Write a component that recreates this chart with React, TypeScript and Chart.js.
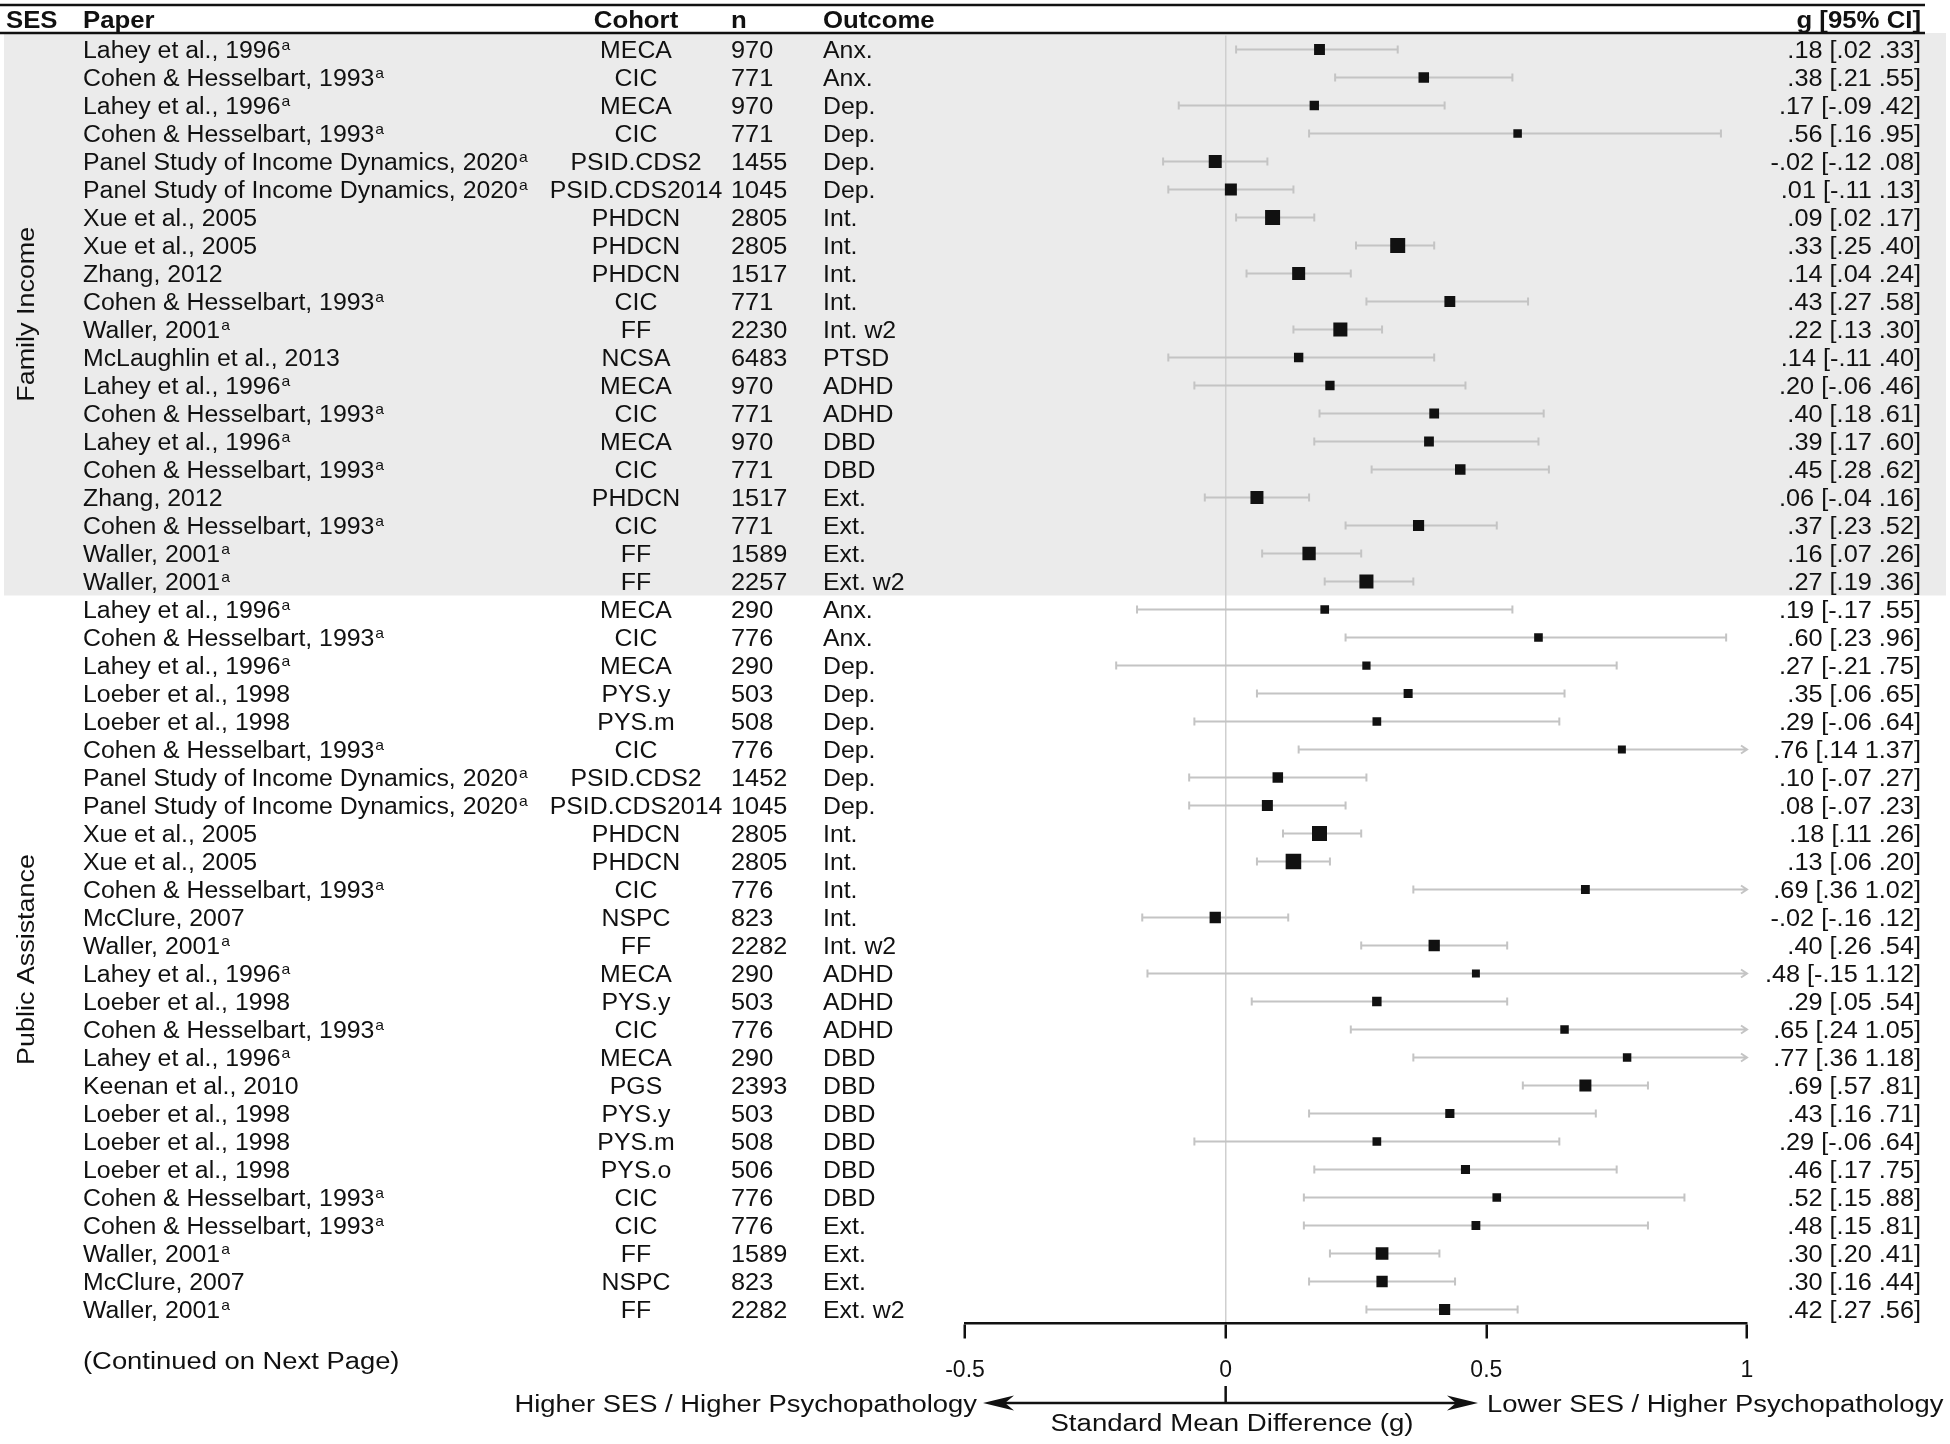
import { useEffect, useRef } from 'react';
import { Chart, registerables } from 'chart.js';

Chart.register(...registerables);

// ---------- data ----------
const sesGroups = ['Family Income', 'Public Assistance'];
const groupSizes = [20, 26];

const papers = [
  'Lahey et al., 1996^a', 'Cohen & Hesselbart, 1993^a', 'Lahey et al., 1996^a', 'Cohen & Hesselbart, 1993^a',
  'Panel Study of Income Dynamics, 2020^a', 'Panel Study of Income Dynamics, 2020^a', 'Xue et al., 2005', 'Xue et al., 2005',
  'Zhang, 2012', 'Cohen & Hesselbart, 1993^a', 'Waller, 2001^a', 'McLaughlin et al., 2013',
  'Lahey et al., 1996^a', 'Cohen & Hesselbart, 1993^a', 'Lahey et al., 1996^a', 'Cohen & Hesselbart, 1993^a',
  'Zhang, 2012', 'Cohen & Hesselbart, 1993^a', 'Waller, 2001^a', 'Waller, 2001^a',
  'Lahey et al., 1996^a', 'Cohen & Hesselbart, 1993^a', 'Lahey et al., 1996^a', 'Loeber et al., 1998',
  'Loeber et al., 1998', 'Cohen & Hesselbart, 1993^a', 'Panel Study of Income Dynamics, 2020^a', 'Panel Study of Income Dynamics, 2020^a',
  'Xue et al., 2005', 'Xue et al., 2005', 'Cohen & Hesselbart, 1993^a', 'McClure, 2007',
  'Waller, 2001^a', 'Lahey et al., 1996^a', 'Loeber et al., 1998', 'Cohen & Hesselbart, 1993^a',
  'Lahey et al., 1996^a', 'Keenan et al., 2010', 'Loeber et al., 1998', 'Loeber et al., 1998',
  'Loeber et al., 1998', 'Cohen & Hesselbart, 1993^a', 'Cohen & Hesselbart, 1993^a', 'Waller, 2001^a',
  'McClure, 2007', 'Waller, 2001^a',
];

const cohorts = [
  'MECA', 'CIC', 'MECA', 'CIC', 'PSID.CDS2', 'PSID.CDS2014', 'PHDCN', 'PHDCN', 'PHDCN', 'CIC',
  'FF', 'NCSA', 'MECA', 'CIC', 'MECA', 'CIC', 'PHDCN', 'CIC', 'FF', 'FF',
  'MECA', 'CIC', 'MECA', 'PYS.y', 'PYS.m', 'CIC', 'PSID.CDS2', 'PSID.CDS2014', 'PHDCN', 'PHDCN',
  'CIC', 'NSPC', 'FF', 'MECA', 'PYS.y', 'CIC', 'MECA', 'PGS', 'PYS.y', 'PYS.m',
  'PYS.o', 'CIC', 'CIC', 'FF', 'NSPC', 'FF',
];

const sampleN = [
  970, 771, 970, 771, 1455, 1045, 2805, 2805, 1517, 771,
  2230, 6483, 970, 771, 970, 771, 1517, 771, 1589, 2257,
  290, 776, 290, 503, 508, 776, 1452, 1045, 2805, 2805,
  776, 823, 2282, 290, 503, 776, 290, 2393, 503, 508,
  506, 776, 776, 1589, 823, 2282,
];

const outcomes = [
  'Anx.', 'Anx.', 'Dep.', 'Dep.', 'Dep.', 'Dep.', 'Int.', 'Int.', 'Int.', 'Int.',
  'Int. w2', 'PTSD', 'ADHD', 'ADHD', 'DBD', 'DBD', 'Ext.', 'Ext.', 'Ext.', 'Ext. w2',
  'Anx.', 'Anx.', 'Dep.', 'Dep.', 'Dep.', 'Dep.', 'Dep.', 'Dep.', 'Int.', 'Int.',
  'Int.', 'Int.', 'Int. w2', 'ADHD', 'ADHD', 'ADHD', 'DBD', 'DBD', 'DBD', 'DBD',
  'DBD', 'DBD', 'Ext.', 'Ext.', 'Ext.', 'Ext. w2',
];

const gValues = [
  0.18, 0.38, 0.17, 0.56, -0.02, 0.01, 0.09, 0.33, 0.14, 0.43,
  0.22, 0.14, 0.20, 0.40, 0.39, 0.45, 0.06, 0.37, 0.16, 0.27,
  0.19, 0.60, 0.27, 0.35, 0.29, 0.76, 0.10, 0.08, 0.18, 0.13,
  0.69, -0.02, 0.40, 0.48, 0.29, 0.65, 0.77, 0.69, 0.43, 0.29,
  0.46, 0.52, 0.48, 0.30, 0.30, 0.42,
];

const ciLower = [
  0.02, 0.21, -0.09, 0.16, -0.12, -0.11, 0.02, 0.25, 0.04, 0.27,
  0.13, -0.11, -0.06, 0.18, 0.17, 0.28, -0.04, 0.23, 0.07, 0.19,
  -0.17, 0.23, -0.21, 0.06, -0.06, 0.14, -0.07, -0.07, 0.11, 0.06,
  0.36, -0.16, 0.26, -0.15, 0.05, 0.24, 0.36, 0.57, 0.16, -0.06,
  0.17, 0.15, 0.15, 0.20, 0.16, 0.27,
];

const ciUpper = [
  0.33, 0.55, 0.42, 0.95, 0.08, 0.13, 0.17, 0.40, 0.24, 0.58,
  0.30, 0.40, 0.46, 0.61, 0.60, 0.62, 0.16, 0.52, 0.26, 0.36,
  0.55, 0.96, 0.75, 0.65, 0.64, 1.37, 0.27, 0.23, 0.26, 0.20,
  1.02, 0.12, 0.54, 1.12, 0.54, 1.05, 1.18, 0.81, 0.71, 0.64,
  0.75, 0.88, 0.81, 0.41, 0.44, 0.56,
];

const xTicks = [-0.5, 0, 0.5, 1];
const xTickLabels = ['-0.5', '0', '0.5', '1'];
const headerLabels = ['SES', 'Paper', 'Cohort', 'n', 'Outcome', 'g [95% CI]'];
const axisTitle = 'Standard Mean Difference (g)';
const leftDirection = 'Higher SES / Higher Psychopathology';
const rightDirection = 'Lower SES / Higher Psychopathology';
const footNote = '(Continued on Next Page)';

// ---------- helpers ----------
const FONT = '"Liberation Sans", Arial, Helvetica, sans-serif';
const INK = '#111111';

const fmt = (v: number) => (v < 0 ? '-' : '') + Math.abs(v).toFixed(2).replace(/^0/, '');

function drawText(
  ctx: CanvasRenderingContext2D,
  s: string,
  x: number,
  y: number,
  size: number,
  align: 'left' | 'center' | 'right' = 'left',
  sx = 1.08,
  bold = false,
) {
  ctx.save();
  ctx.font = `${bold ? 'bold ' : ''}${size}px ${FONT}`;
  ctx.fillStyle = INK;
  ctx.textBaseline = 'alphabetic';
  ctx.textAlign = 'left';
  const w = ctx.measureText(s).width * sx;
  const left = align === 'center' ? x - w / 2 : align === 'right' ? x - w : x;
  ctx.translate(left, y);
  ctx.scale(sx, 1);
  ctx.fillText(s, 0, 0);
  ctx.restore();
  return w;
}

function arrowHead(ctx: CanvasRenderingContext2D, tipX: number, y: number, dir: number) {
  const len = 31;
  const half = 7.5;
  const notch = 22;
  ctx.beginPath();
  ctx.moveTo(tipX, y);
  ctx.lineTo(tipX - dir * len, y - half);
  ctx.lineTo(tipX - dir * notch, y);
  ctx.lineTo(tipX - dir * len, y + half);
  ctx.closePath();
  ctx.fill();
}

const forestPlugin = {
  id: 'forest',
  beforeDraw(chart: any) {
    const { ctx } = chart;
    const ys = chart.scales.y;
    ctx.save();
    ctx.fillStyle = '#ffffff';
    ctx.fillRect(0, 0, chart.width, chart.height);
    // shaded first SES block
    const bandBottom = ys.getPixelForValue(groupSizes[0] - 0.5);
    ctx.fillStyle = '#ebebeb';
    ctx.fillRect(4, 33, 1942, bandBottom - 33);
    ctx.restore();
  },
  beforeDatasetsDraw(chart: any) {
    const { ctx } = chart;
    const xs = chart.scales.x;
    const ys = chart.scales.y;
    const xMin = xs.min;
    const xMax = xs.max;
    ctx.save();
    ctx.strokeStyle = '#c4c4c4';
    ctx.lineWidth = 2;
    for (let i = 0; i < gValues.length; i++) {
      const y = ys.getPixelForValue(i);
      const lo = ciLower[i];
      const hi = ciUpper[i];
      const x1 = xs.getPixelForValue(Math.max(lo, xMin));
      const x2 = xs.getPixelForValue(Math.min(hi, xMax));
      ctx.beginPath();
      ctx.moveTo(x1, y);
      ctx.lineTo(x2, y);
      if (lo >= xMin) {
        ctx.moveTo(x1, y - 4);
        ctx.lineTo(x1, y + 4);
      } else {
        ctx.moveTo(x1 + 6, y - 4);
        ctx.lineTo(x1, y);
        ctx.lineTo(x1 + 6, y + 4);
      }
      if (hi <= xMax) {
        ctx.moveTo(x2, y - 4);
        ctx.lineTo(x2, y + 4);
      } else {
        ctx.moveTo(x2 - 6, y - 4);
        ctx.lineTo(x2, y);
        ctx.lineTo(x2 - 6, y + 4);
      }
      ctx.stroke();
    }
    ctx.restore();
  },
  afterDraw(chart: any) {
    const { ctx } = chart;
    const xs = chart.scales.x;
    const ys = chart.scales.y;
    ctx.save();

    // header rules
    ctx.strokeStyle = INK;
    ctx.lineWidth = 2.5;
    ctx.beginPath();
    ctx.moveTo(0, 5);
    ctx.lineTo(1925, 5);
    ctx.moveTo(0, 33);
    ctx.lineTo(1925, 33);
    ctx.stroke();

    // headers
    const hy = 28;
    drawText(ctx, headerLabels[0], 6, hy, 23, 'left', 1.12, true);
    drawText(ctx, headerLabels[1], 83, hy, 23, 'left', 1.12, true);
    drawText(ctx, headerLabels[2], 636, hy, 23, 'center', 1.12, true);
    drawText(ctx, headerLabels[3], 731, hy, 23, 'left', 1.12, true);
    drawText(ctx, headerLabels[4], 823, hy, 23, 'left', 1.12, true);
    drawText(ctx, headerLabels[5], 1921, hy, 23, 'right', 1.12, true);

    // rows
    for (let i = 0; i < gValues.length; i++) {
      const yc = ys.getPixelForValue(i);
      const base = yc + 8.5;
      const p = papers[i];
      const hasSup = p.endsWith('^a');
      const name = hasSup ? p.slice(0, -2) : p;
      const w = drawText(ctx, name, 83, base, 23, 'left', 1.08);
      if (hasSup) drawText(ctx, 'a', 83 + w + 1, base - 8, 15, 'left', 1.05);
      drawText(ctx, cohorts[i], 636, base, 23, 'center', 1.08);
      drawText(ctx, String(sampleN[i]), 731, base, 23, 'left', 1.1);
      drawText(ctx, outcomes[i], 823, base, 23, 'left', 1.08);
      const label = `${fmt(gValues[i])} [${fmt(ciLower[i])} ${fmt(ciUpper[i])}]`;
      drawText(ctx, label, 1921, base, 23, 'right', 1.1);
    }

    // SES group labels (rotated)
    let start = 0;
    for (let g = 0; g < sesGroups.length; g++) {
      const top = g === 0 ? 33 : ys.getPixelForValue(start - 0.5);
      const bottom = ys.getPixelForValue(start + groupSizes[g] - 0.5);
      const cy = (top + bottom) / 2;
      ctx.save();
      ctx.translate(25, cy);
      ctx.rotate(-Math.PI / 2);
      drawText(ctx, sesGroups[g], 0, 8.5, 23, 'center', 1.17);
      ctx.restore();
      start += groupSizes[g];
    }

    // continuation note
    drawText(ctx, footNote, 83, 1369, 23, 'left', 1.19);

    // direction arrow
    const zeroX = xs.getPixelForValue(0);
    const ay = 1403;
    const leftTip = 983;
    const rightTip = 1478;
    ctx.strokeStyle = INK;
    ctx.fillStyle = INK;
    ctx.lineWidth = 2.5;
    ctx.beginPath();
    ctx.moveTo(leftTip + 20, ay);
    ctx.lineTo(rightTip - 20, ay);
    ctx.moveTo(zeroX, ay);
    ctx.lineTo(zeroX, 1386);
    ctx.stroke();
    arrowHead(ctx, rightTip, ay, 1);
    arrowHead(ctx, leftTip, ay, -1);

    drawText(ctx, leftDirection, 977, ay + 8.5, 23, 'right', 1.19);
    drawText(ctx, rightDirection, 1487, ay + 8.5, 23, 'left', 1.19);
    drawText(ctx, axisTitle, 1232, 1431, 23, 'center', 1.2);

    ctx.restore();
  },
};

export default function App() {
  const canvasRef = useRef<HTMLCanvasElement | null>(null);

  useEffect(() => {
    const canvas = canvasRef.current;
    if (!canvas) return;
    document.body.style.margin = '0';
    document.body.style.overflow = 'hidden';

    const points = gValues.map((g, i) => ({ x: g, y: i }));
    const sides = gValues.map((_, i) => 7 + 1.2 / (ciUpper[i] - ciLower[i]));

    const chart = new Chart(canvas, {
      type: 'scatter',
      data: {
        datasets: [
          {
            data: points,
            pointStyle: 'rect',
            pointRadius: sides.map((s) => s / Math.SQRT2),
            pointHoverRadius: sides.map((s) => s / Math.SQRT2),
            backgroundColor: INK,
            borderColor: INK,
            borderWidth: 0,
          },
        ],
      },
      options: {
        responsive: false,
        devicePixelRatio: 1,
        animation: false,
        events: [],
        layout: { padding: { left: 965, right: 203, top: 35.5, bottom: 60.5 } },
        plugins: { legend: { display: false }, tooltip: { enabled: false } },
        scales: {
          x: {
            type: 'linear',
            min: xTicks[0],
            max: xTicks[xTicks.length - 1],
            afterBuildTicks: (scale: any) => {
              scale.ticks = xTicks.map((v) => ({ value: v }));
            },
            afterFit: (scale: any) => {
              scale.height = 60;
            },
            ticks: {
              color: INK,
              padding: 18,
              maxRotation: 0,
              autoSkip: false,
              font: { family: FONT, size: 23 },
              callback: (v: any) => {
                const k = xTicks.indexOf(Number(v));
                return k >= 0 ? xTickLabels[k] : '';
              },
            },
            grid: {
              color: (c: any) => (c.tick && c.tick.value === 0 ? '#cfcfcf' : 'rgba(0,0,0,0)'),
              lineWidth: 1.5,
              drawTicks: true,
              tickLength: 15,
              tickColor: INK,
              tickWidth: 2.5,
            },
            border: { display: true, color: INK, width: 2.5 },
          },
          y: {
            type: 'linear',
            min: -0.5,
            max: gValues.length - 0.5,
            reverse: true,
            display: false,
          },
        },
      },
      plugins: [forestPlugin],
    } as any);

    return () => chart.destroy();
  }, []);

  return (
    <div style={{ position: 'fixed', left: 0, top: 0, width: 1950, height: 1444 }}>
      <canvas ref={canvasRef} width={1950} height={1444} style={{ width: 1950, height: 1444, display: 'block' }} />
    </div>
  );
}
